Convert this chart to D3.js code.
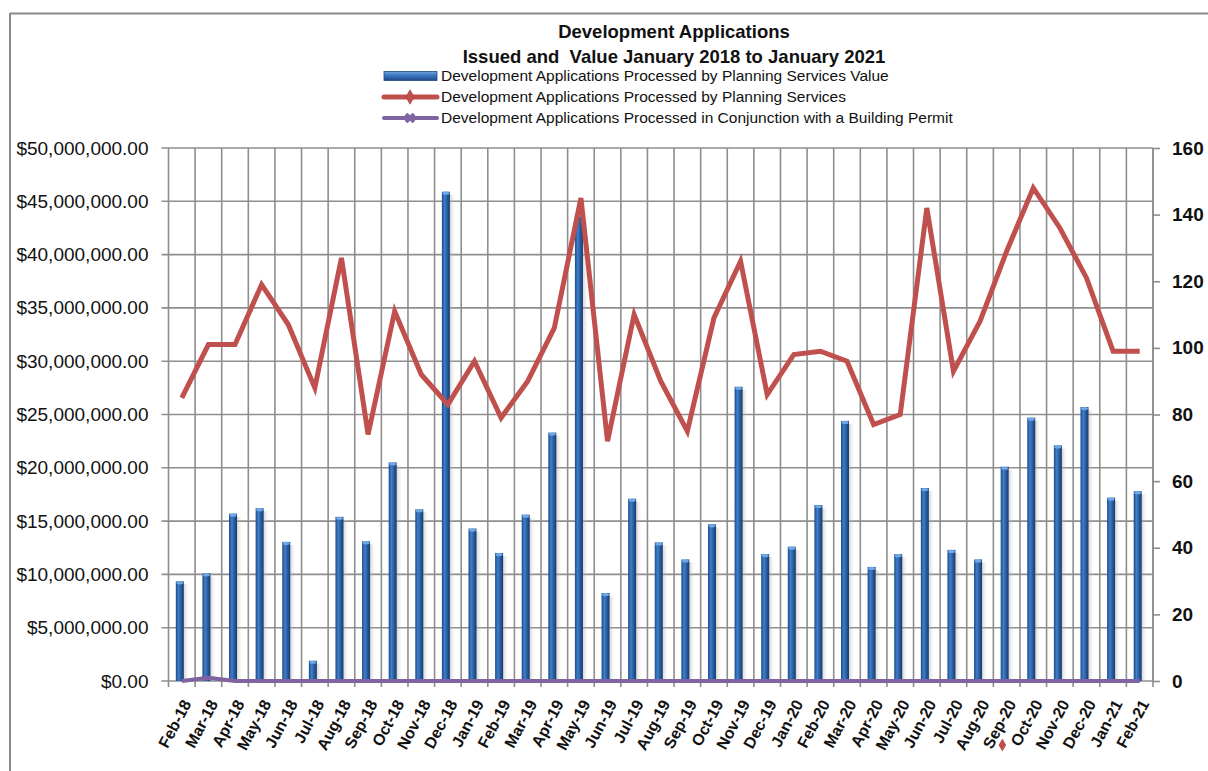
<!DOCTYPE html>
<html>
<head>
<meta charset="utf-8">
<script src="https://cdn.jsdelivr.net/npm/d3@7"></script>
<style>
  html, body { margin: 0; padding: 0; background: #fff; }
  svg { display: block; font-family: "Liberation Sans", Arial, sans-serif; }
</style>
</head>
<body>
<svg id="chart" width="1208" height="771"></svg>
<script>
const months = ["Feb-18","Mar-18","Apr-18","May-18","Jun-18","Jul-18","Aug-18","Sep-18","Oct-18","Nov-18","Dec-18",
  "Jan-19","Feb-19","Mar-19","Apr-19","May-19","Jun-19","Jul-19","Aug-19","Sep-19","Oct-19","Nov-19","Dec-19",
  "Jan-20","Feb-20","Mar-20","Apr-20","May-20","Jun-20","Jul-20","Aug-20","Sep-20","Oct-20","Nov-20","Dec-20",
  "Jan-21","Feb-21"];
const planningValue = [9.35e6,10.1e6,15.7e6,16.2e6,13.05e6,1.9e6,15.4e6,13.1e6,20.5e6,16.1e6,45.9e6,
  14.3e6,12.0e6,15.6e6,23.3e6,43.8e6,8.25e6,17.1e6,13.0e6,11.4e6,14.7e6,27.6e6,11.9e6,
  12.6e6,16.5e6,24.4e6,10.7e6,11.9e6,18.1e6,12.3e6,11.4e6,20.1e6,24.7e6,22.1e6,25.7e6,
  17.2e6,17.8e6];
const planningCount = [85,101,101,119,107,88,127,74,111,92,83,
  96,79,90,106,145,72,110,90,75,109,126,86,
  98,99,96,77,80,142,93,108,129,148,136,121,
  99,99];
const buildingPermitCount = [0,1,0,0,0,0,0,0,0,0,0,
  0,0,0,0,0,0,0,0,0,0,0,0,
  0,0,0,0,0,0,0,0,0,0,0,0,
  0,0];
const leftTicks = [0,5e6,10e6,15e6,20e6,25e6,30e6,35e6,40e6,45e6,50e6];
const rightTicks = [0,20,40,60,80,100,120,140,160];
const titleLines = ["Development Applications", "Issued and  Value January 2018 to January 2021"];
const legendLabels = ["Development Applications Processed by Planning Services Value",
  "Development Applications Processed by Planning Services",
  "Development Applications Processed in Conjunction with a Building Permit"];

const svg = d3.select("#chart");
const L = 168.5, R = 1153, T = 148, B = 681;
const gridColor = "#8e8e8e";
const x = d3.scaleBand().domain(months).range([L, R]).padding(0);
const yL = d3.scaleLinear().domain([0, 50e6]).range([B, T]);
const yR = d3.scaleLinear().domain([0, 160]).range([B, T]);

const defs = svg.append("defs");
const bg = defs.append("linearGradient").attr("id","barGrad").attr("x1","0").attr("x2","1").attr("y1","0").attr("y2","0");
bg.append("stop").attr("offset","0%").attr("stop-color","#1d4a86");
bg.append("stop").attr("offset","35%").attr("stop-color","#3f7fcc");
bg.append("stop").attr("offset","60%").attr("stop-color","#2c63a8");
bg.append("stop").attr("offset","100%").attr("stop-color","#173a6a");
const sg = defs.append("linearGradient").attr("id","shadowGrad").attr("x1","0").attr("x2","1").attr("y1","0").attr("y2","0");
sg.append("stop").attr("offset","0%").attr("stop-color","#9a9a9a").attr("stop-opacity",0.55);
sg.append("stop").attr("offset","100%").attr("stop-color","#cfcfcf").attr("stop-opacity",0);
const lg = defs.append("linearGradient").attr("id","legGrad").attr("x1","0").attr("x2","0").attr("y1","0").attr("y2","1");
lg.append("stop").attr("offset","0%").attr("stop-color","#6fa3e0");
lg.append("stop").attr("offset","45%").attr("stop-color","#3a74bd");
lg.append("stop").attr("offset","100%").attr("stop-color","#1d4a86");

// frame
svg.append("line").attr("x1",10).attr("x2",1208).attr("y1",13.5).attr("y2",13.5).attr("stroke","#8a8a8a").attr("stroke-width",2);
svg.append("line").attr("x1",10).attr("x2",10).attr("y1",13).attr("y2",771).attr("stroke","#8a8a8a").attr("stroke-width",2);

// horizontal gridlines
svg.append("g").selectAll("line").data(leftTicks).join("line")
  .attr("x1", L - 7).attr("x2", R).attr("y1", d => yL(d)).attr("y2", d => yL(d))
  .attr("stroke", gridColor).attr("stroke-width", 1.6);
// vertical gridlines at category boundaries
const bounds = months.map(m => x(m)).concat([R]);
svg.append("g").selectAll("line").data(bounds).join("line")
  .attr("x1", d => d).attr("x2", d => d).attr("y1", T).attr("y2", B + 6)
  .attr("stroke", gridColor).attr("stroke-width", 1.6);

// left axis labels
const axL = d3.axisLeft(yL).tickValues(leftTicks).tickFormat(d3.format("$,.2f")).tickSize(0).tickPadding(20);
const gL = svg.append("g").attr("transform", `translate(${L},0)`).call(axL);
gL.select(".domain").remove();
gL.selectAll("text").attr("font-size", 19).attr("fill", "#111").attr("font-family", "Liberation Sans, Arial, sans-serif");

// right axis
const axR = d3.axisRight(yR).tickValues(rightTicks).tickSize(7).tickPadding(12);
const gR = svg.append("g").attr("transform", `translate(${R},0)`).call(axR);
gR.select(".domain").attr("stroke", gridColor).attr("stroke-width", 1.6).attr("d", `M0,${T}V${B}`);
gR.selectAll("line").attr("stroke", gridColor).attr("stroke-width", 1.6);
gR.selectAll("text").attr("font-size", 19).attr("font-weight", "bold").attr("fill", "#111").attr("font-family", "Liberation Sans, Arial, sans-serif");

// bars
const bw = 8;
const barG = svg.append("g");
barG.selectAll("rect.sh").data(months).join("rect").attr("class","sh")
  .attr("x", (d) => x(d) + x.bandwidth()/2 - 2 + bw/2 - 1)
  .attr("y", (d,i) => yL(planningValue[i]) + 3)
  .attr("width", 6).attr("height", (d,i) => B - yL(planningValue[i]) - 3)
  .attr("fill", "url(#shadowGrad)");
barG.selectAll("rect.bar").data(months).join("rect").attr("class","bar")
  .attr("x", d => x(d) + x.bandwidth()/2 - 2 - bw/2)
  .attr("y", (d,i) => yL(planningValue[i]))
  .attr("width", bw).attr("height", (d,i) => B - yL(planningValue[i]))
  .attr("fill", "url(#barGrad)");
barG.selectAll("ellipse").data(months).join("ellipse")
  .attr("cx", d => x(d) + x.bandwidth()/2 - 2)
  .attr("cy", (d,i) => yL(planningValue[i]) + 1.5)
  .attr("rx", bw/2 - 0.5).attr("ry", 1.6)
  .attr("fill", "#6fa8e8");

// lines
const cx = d => x(d) + x.bandwidth()/2;
const lineR = d3.line().x((d,i) => cx(months[i])).y(d => yR(d));
svg.append("path").datum(buildingPermitCount).attr("d", lineR)
  .attr("fill","none").attr("stroke","#8064a2").attr("stroke-width",4).attr("stroke-linejoin","round");
svg.append("path").datum(planningCount).attr("d", lineR)
  .attr("fill","none").attr("stroke","#c0504d").attr("stroke-width",5).attr("stroke-linejoin","miter");

// x axis labels
const axX = d3.axisBottom(x).tickSize(0).tickPadding(0);
const gX = svg.append("g").attr("transform", `translate(0,${B})`).call(axX);
gX.select(".domain").remove();
gX.selectAll("text")
  .attr("font-size", 16).attr("font-weight", "bold").attr("fill", "#111")
  .attr("font-family", "Liberation Sans, Arial, sans-serif")
  .attr("text-anchor", "end").attr("dy", "0.35em")
  .attr("transform", "translate(5,20) rotate(-62)");

// stray red diamond marker
svg.append("path").attr("d", d3.symbol().type(d3.symbolDiamond).size(50)())
  .attr("transform", `translate(${x("Sep-20") + 9},745) rotate(0)`).attr("fill", "#c0504d");

// title
svg.append("g").selectAll("text").data(titleLines).join("text")
  .attr("x", 674).attr("y", (d,i) => 38 + i*25)
  .attr("text-anchor","middle").attr("font-size",18.5).attr("font-weight","bold").attr("fill","#111")
  .style("white-space","pre").attr("xml:space","preserve")
  .text(d => d);

// legend
const legY = [76, 97, 118];
const lgG = svg.append("g");
lgG.append("rect").attr("x",384).attr("y",legY[0]-4.5).attr("width",53).attr("height",9).attr("fill","url(#legGrad)").attr("stroke","#1d4a86").attr("stroke-width",0.8);
lgG.append("line").attr("x1",384).attr("x2",437).attr("y1",legY[1]).attr("y2",legY[1]).attr("stroke","#c0504d").attr("stroke-width",5).attr("stroke-linecap","round");
lgG.append("path").attr("d", d3.symbol().type(d3.symbolDiamond).size(60)()).attr("transform",`translate(410,${legY[1]})`).attr("fill","#c0504d").attr("stroke","#9e3b38").attr("stroke-width",0.6);
lgG.append("line").attr("x1",384).attr("x2",437).attr("y1",legY[2]).attr("y2",legY[2]).attr("stroke","#8064a2").attr("stroke-width",4).attr("stroke-linecap","round");
lgG.append("path").attr("d", d3.symbol().type(d3.symbolCross).size(70)()).attr("transform",`translate(410,${legY[2]}) rotate(45)`).attr("fill","#8064a2");
lgG.selectAll("text").data(legendLabels).join("text")
  .attr("x", 441).attr("y", (d,i) => legY[i]).attr("dy","0.35em")
  .attr("font-size", 15.5).attr("fill","#111").text(d => d);
</script>
</body>
</html>
